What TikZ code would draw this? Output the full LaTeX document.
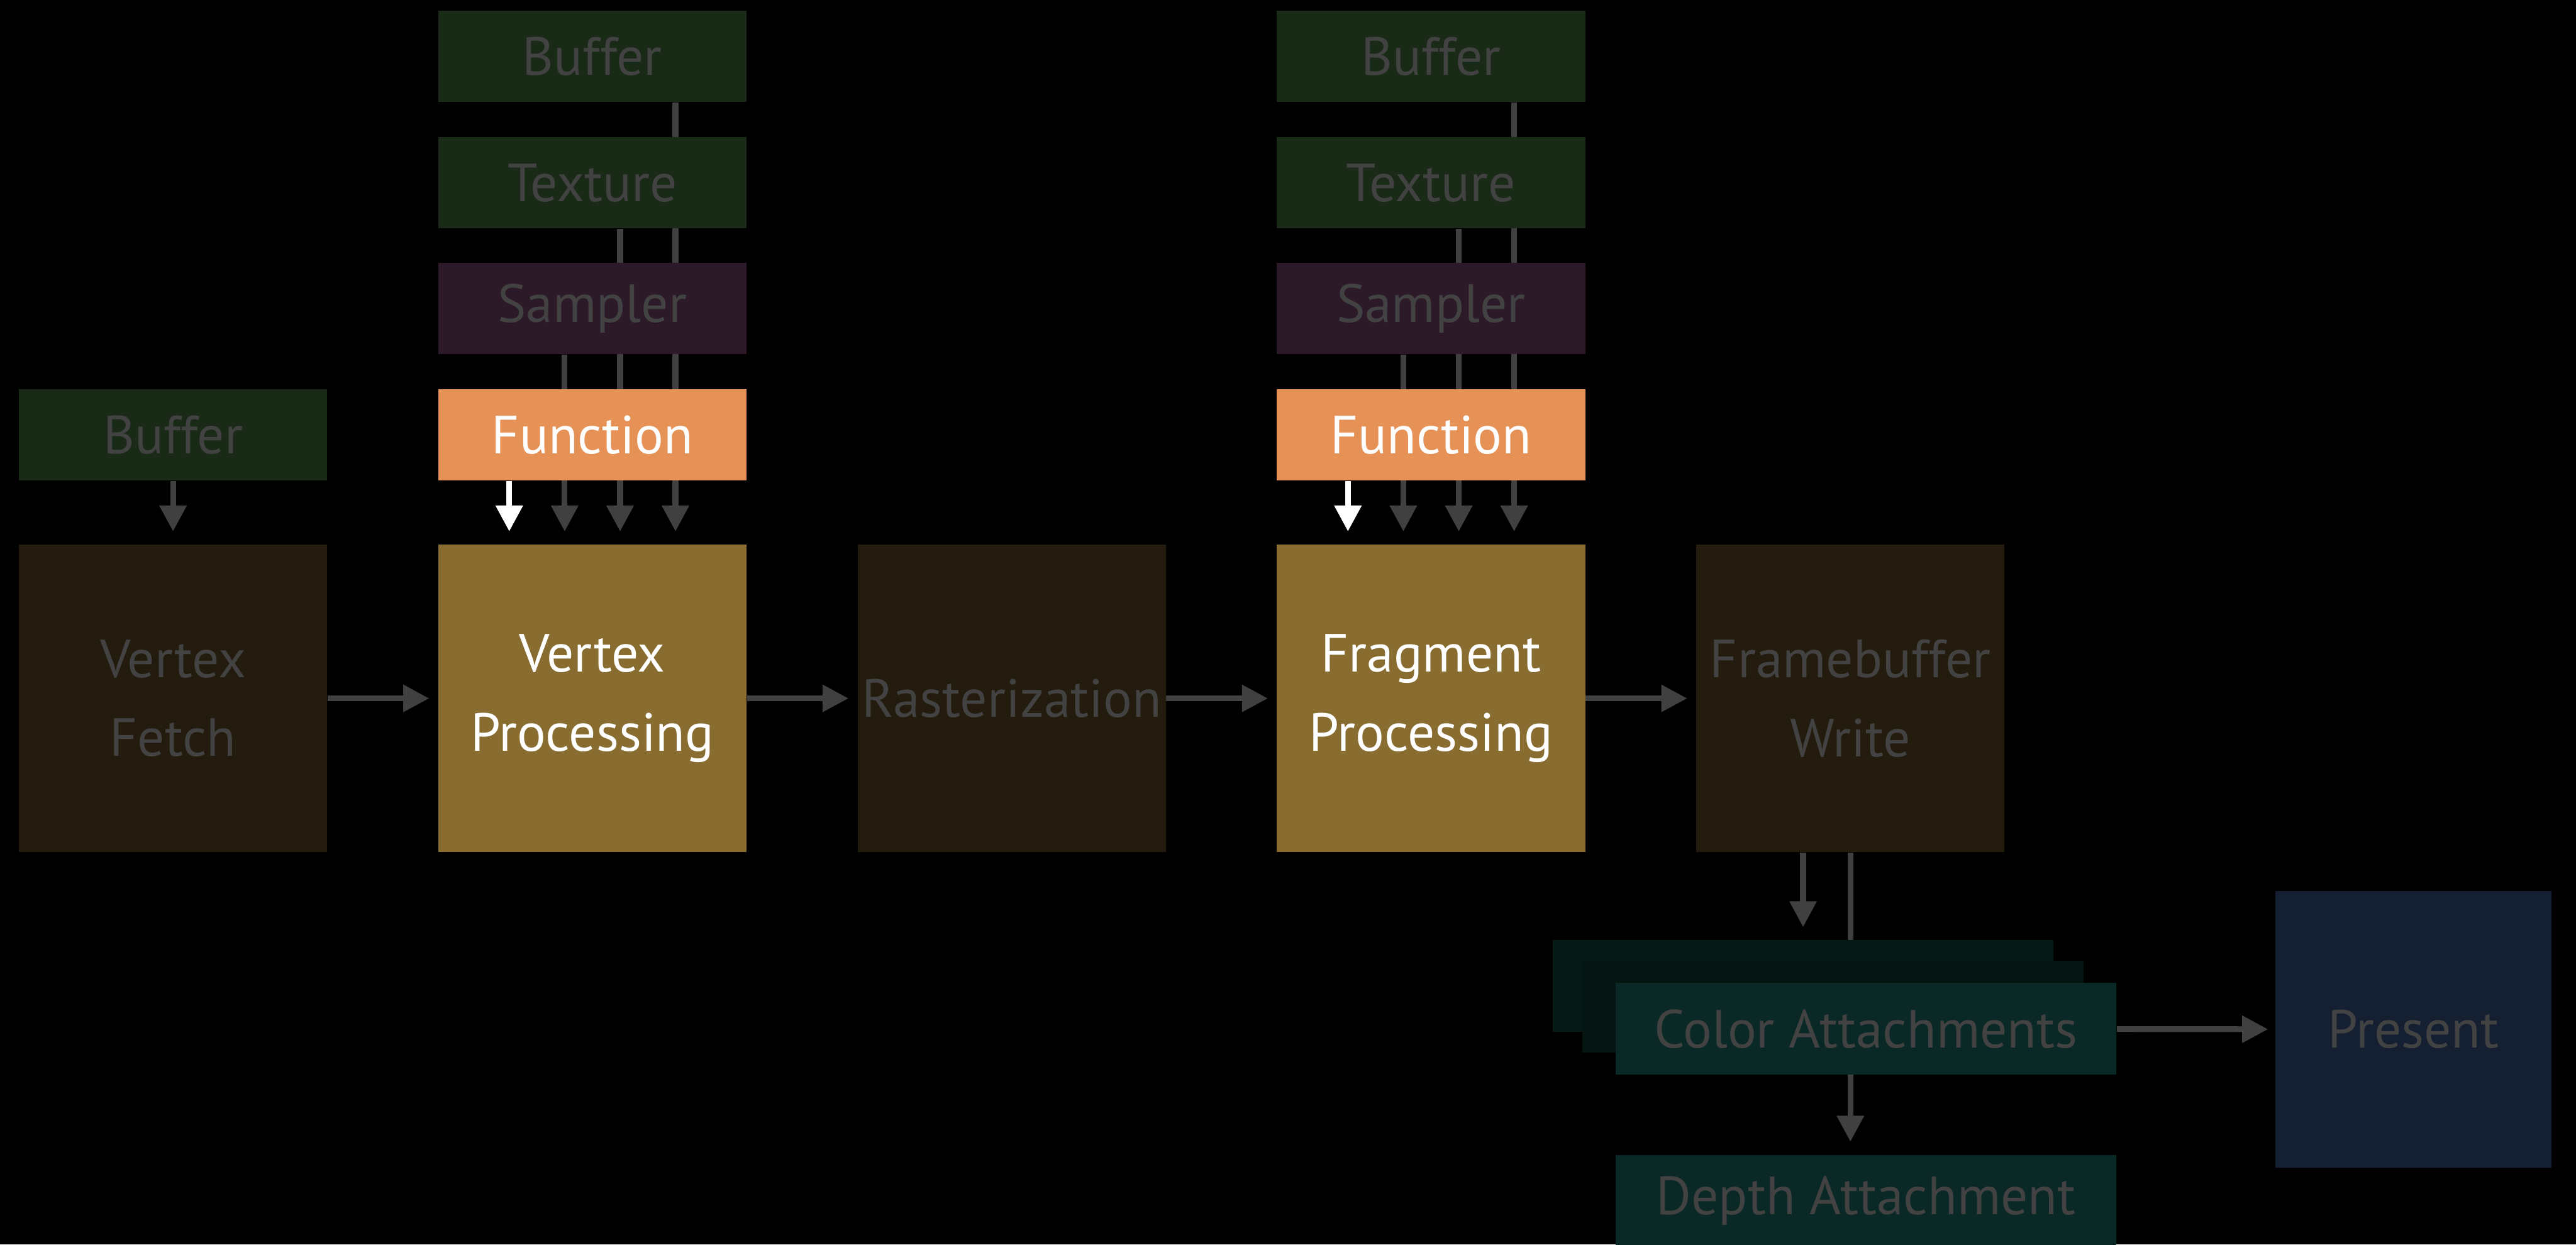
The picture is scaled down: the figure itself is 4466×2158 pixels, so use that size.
\documentclass[tikz,border=0pt]{standalone}
\usepackage{fontspec}
\setmainfont{PT Sans}
\usetikzlibrary{arrows.meta}

\pgfdeclarelayer{back}
\pgfsetlayers{back,main}

\definecolor{dimtext}{HTML}{424242}
\definecolor{linegray}{HTML}{404040}
\definecolor{bufgreen}{HTML}{192A17}
\definecolor{sampurple}{HTML}{2C1A29}
\definecolor{funcorange}{HTML}{E69156}
\definecolor{procgold}{HTML}{886C30}
\definecolor{stagebrown}{HTML}{231B0D}
\definecolor{attachteal}{HTML}{0A2825}
\definecolor{attachmid}{HTML}{041512}
\definecolor{attachback}{HTML}{061A17}
\definecolor{presentblue}{HTML}{142032}

\tikzset{
  box/.style={minimum width=5.34cm, minimum height=1.58cm, inner sep=0pt,
    text=dimtext, align=center, font=\fontsize{26.5}{39}\selectfont},
  bigbox/.style={box, minimum height=5.33cm},
  attach/.style={box, minimum width=8.68cm, minimum height=1.59cm},
  link/.style={draw=linegray, line width=0.1cm,
    -{Triangle[length=0.45cm,width=0.45cm]}, shorten >=0.22cm},
  mainlink/.style={link, draw=white},
}

\begin{document}
\begin{tikzpicture}[x=0.01cm, y=-0.01cm]
\useasboundingbox (0,0) rectangle (4466,2158);
\begin{pgfonlayer}{back}
\fill[black] (0,0) rectangle (4466,2158);
\end{pgfonlayer}

\node[box, fill=bufgreen] (buf) at (300,754) {Buffer};
\node[bigbox, fill=stagebrown] (fetch) at (300,1211) {Vertex\\Fetch};
\node[bigbox, fill=stagebrown] (raster) at (1754,1211) {Rasterization};
\node[bigbox, fill=stagebrown] (fbwrite) at (3208,1211) {Framebuffer\\Write};

\foreach \c/\x/\stage in {v/1027/Vertex, f/2481/Fragment}
{
    \node[box, fill=bufgreen] (\c buf) at (\x,98) {Buffer};
    \node[box, fill=bufgreen] (\c tex) at (\x,317) {Texture};
    \node[box, fill=sampurple] (\c samp) at (\x,535) {Sampler};
    \node[box, fill=funcorange, text=white] (\c func) at (\x,754) {Function};
    \node[bigbox, fill=procgold, text=white] (\c proc) at (\x,1211) {\stage\\Processing};
    \begin{pgfonlayer}{back}
    \draw[link] ([xshift=1.44cm]\c buf.south) -- ([xshift=1.44cm]\c proc.north);
    \draw[link] ([xshift=0.48cm]\c tex.south) -- ([xshift=0.48cm]\c proc.north);
    \draw[link] ([xshift=-0.48cm]\c samp.south) -- ([xshift=-0.48cm]\c proc.north);
    \end{pgfonlayer}
    \draw[mainlink] ([xshift=-1.44cm]\c func.south) -- ([xshift=-1.44cm]\c proc.north);
}

\node[attach, fill=attachback] (back) at (3126,1710) {};
\node[attach, fill=attachmid] (mid) at (3178,1746) {};
\node[attach, fill=attachteal] (color) at (3235,1784) {Color Attachments};
\node[attach, fill=attachteal] (depth) at (3235,2082) {Depth Attachment};
\node[box, fill=presentblue, minimum width=4.78cm, minimum height=4.79cm] (present) at (4184,1785) {Present};

\draw[link] (buf) -- (fetch);
\draw[link, shorten >=0.15cm] (fetch) -- (vproc);
\draw[link, shorten >=0.15cm] (vproc) -- (raster);
\draw[link, shorten >=0.15cm] (raster) -- (fproc);
\draw[link, shorten >=0.15cm] (fproc) -- (fbwrite);
\draw[link] (back.north |- fbwrite.south) -- (back.north);
\begin{pgfonlayer}{back}
\draw[link] (fbwrite.south) -- (fbwrite.south |- depth.north);
\end{pgfonlayer}
\draw[link, shorten >=0.12cm] (color) -- (present);
\end{tikzpicture}
\end{document}
